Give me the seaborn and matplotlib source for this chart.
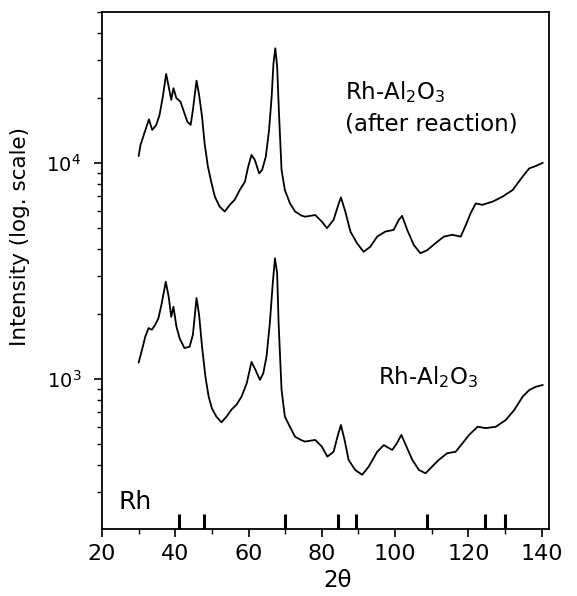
import matplotlib
matplotlib.use("Agg")
import matplotlib.pyplot as plt
import matplotlib.transforms as mtransforms
from matplotlib.ticker import MultipleLocator, LogLocator
import pandas as pd
import seaborn as sns

# ---- data ----
two_theta_after = [30.0, 30.5, 31.4, 32.3, 32.8, 33.7, 34.8, 35.7, 36.6, 37.5, 38.2, 38.9, 39.5,
                   40.3, 41.4, 42.5, 43.3, 44.2, 44.8, 45.8, 46.5, 47.3, 48.0, 48.9, 49.9, 50.8,
                   52.1, 53.5, 54.9, 56.2, 57.6, 59.0, 59.9, 60.8, 61.7, 62.9, 63.7, 64.7, 65.6,
                   66.3, 66.8, 67.3, 67.8, 68.3, 69.0, 69.9, 71.3, 72.7, 74.5, 75.4, 78.2, 80.0,
                   81.4, 83.2, 84.5, 85.2, 86.4, 87.8, 89.6, 91.4, 93.2, 95.1, 97.3, 99.6, 101.0,
                   101.9, 103.3, 105.1, 106.9, 108.8, 111.0, 113.3, 115.6, 117.9, 119.3, 120.6,
                   122.0, 123.8, 126.6, 129.3, 132.1, 134.8, 136.6, 138.4, 140.3]
intensity_after = [10760, 12100, 13490, 15000, 15920, 14220, 15000, 16670, 20280, 25820, 22540,
                   19590, 22180, 19950, 19230, 16980, 15520, 15000, 17580, 24040, 20650, 16370,
                   12330, 9620, 8050, 6980, 6280, 5960, 6400, 6750, 7500, 8180, 9620, 10890,
                   10330, 8950, 9290, 10690, 14220, 20280, 28970, 33960, 27930, 16980, 9290,
                   7500, 6500, 5960, 5700, 5640, 5740, 5350, 4990, 5450, 6400, 6930, 5960, 4810,
                   4250, 3880, 4090, 4560, 4810, 4900, 5450, 5690, 4900, 4170, 3820, 3950, 4250,
                   4560, 4650, 4560, 5160, 5850, 6500, 6400, 6620, 6980, 7500, 8650, 9440, 9680,
                   10020]

two_theta_fresh = [30.0, 30.9, 31.8, 32.7, 33.6, 34.5, 35.4, 36.3, 37.4, 38.2, 38.9, 39.5, 40.3,
                   41.2, 42.5, 43.9, 44.8, 45.8, 46.5, 47.3, 48.2, 49.1, 50.0, 51.2, 52.6, 54.0,
                   55.3, 56.7, 58.1, 59.5, 60.8, 61.9, 63.1, 64.0, 64.9, 65.8, 66.6, 67.2, 67.8,
                   68.2, 69.0, 69.9, 71.3, 72.7, 74.5, 75.4, 78.2, 80.0, 81.5, 83.2, 84.4, 85.2,
                   86.2, 87.3, 89.1, 91.0, 92.8, 95.1, 96.9, 99.2, 100.5, 101.7, 103.1, 104.7,
                   106.5, 108.3, 110.1, 111.9, 114.2, 116.5, 118.4, 120.2, 122.5, 124.7, 127.5,
                   130.2, 132.5, 134.8, 136.6, 138.4, 140.3]
intensity_fresh = [1190, 1360, 1570, 1720, 1690, 1780, 1910, 2240, 2820, 2400, 1940, 2160, 1750,
                   1540, 1390, 1410, 1600, 2370, 1980, 1410, 1030, 830, 730, 670, 630, 670, 720,
                   760, 830, 955, 1200, 1100, 990, 1060, 1270, 1810, 2770, 3620, 3080, 1810, 890,
                   670, 600, 540, 520, 513, 522, 486, 437, 460, 551, 612, 522, 422, 379, 360, 393,
                   460, 494, 469, 504, 551, 486, 422, 379, 366, 393, 422, 453, 460, 504, 551, 601,
                   592, 601, 646, 718, 828, 889, 920, 938]

rh_reflections = [41.07, 47.78, 69.87, 84.4, 89.3, 108.6, 124.4, 130.0]

sample_names = ["Rh-Al2O3 (after reaction)", "Rh-Al2O3"]
x_ticks = [20, 40, 60, 80, 100, 120, 140]

df = pd.concat([
    pd.DataFrame({"two_theta": two_theta_after, "intensity": intensity_after, "sample": sample_names[0]}),
    pd.DataFrame({"two_theta": two_theta_fresh, "intensity": intensity_fresh, "sample": sample_names[1]}),
], ignore_index=True)

# ---- style ----
sns.set_style("ticks")
plt.rcParams["font.family"] = ["DejaVu Sans"]
plt.rcParams["mathtext.fontset"] = "dejavusans"
plt.rcParams["text.color"] = "black"
plt.rcParams["axes.labelcolor"] = "black"
plt.rcParams["xtick.color"] = "black"
plt.rcParams["ytick.color"] = "black"

fig = plt.figure(figsize=(5.77, 5.96), dpi=100)
ax = fig.add_axes([0.1768, 0.1124, 0.7747, 0.8675])

sns.lineplot(data=df, x="two_theta", y="intensity", hue="sample", units="sample",
             estimator=None, sort=False, palette=["black", "black"], legend=False,
             linewidth=1.3, ax=ax)

ax.set_yscale("log")
ax.set_xlim(20, 142)
ax.set_ylim(202, 50000)

# Rh reference reflections as short bars at the bottom
trans = mtransforms.blended_transform_factory(ax.transData, ax.transAxes)
ax.vlines(rh_reflections, 0, 0.029, transform=trans, colors="black", linewidth=2.2)

ax.xaxis.set_major_locator(MultipleLocator(20))
ax.xaxis.set_minor_locator(MultipleLocator(10))
ax.set_xticks(x_ticks)
ax.yaxis.set_major_locator(LogLocator(base=10))
ax.yaxis.set_minor_locator(LogLocator(base=10, subs=range(2, 10)))

for side in ["left", "right", "top", "bottom"]:
    ax.spines[side].set_visible(True)
    ax.spines[side].set_linewidth(1.3)
    ax.spines[side].set_color("black")

ax.tick_params(axis="x", which="major", direction="out", length=6, width=1.2, labelsize=16,
               pad=5, colors="black")
ax.tick_params(axis="x", which="minor", direction="out", length=3.5, width=1.0, colors="black")
ax.tick_params(axis="y", which="major", direction="out", length=6, width=1.2, labelsize=14,
               pad=9, colors="black")
ax.tick_params(axis="y", which="minor", direction="out", length=3.5, width=1.0, colors="black")

ax.set_xlabel("2θ", fontsize=16.5, color="black")
ax.xaxis.set_label_coords(0.526, -0.078)
ax.xaxis.label.set_va("top")
ax.set_ylabel("Intensity (log. scale)", fontsize=15.5, color="black")
ax.yaxis.set_label_coords(-0.16, 0.565)

ax.text(86.4, 19800, r"Rh-Al$_2$O$_3$", fontsize=16.5, ha="left", va="baseline", color="black")
ax.text(86.4, 14200, "(after reaction)", fontsize=16.5, ha="left", va="baseline", color="black")
ax.text(95.4, 948, r"Rh-Al$_2$O$_3$", fontsize=16.5, ha="left", va="baseline", color="black")
ax.text(24.5, 250, "Rh", fontsize=18, ha="left", va="baseline", color="black")

fig.savefig("out.png", dpi=100)
